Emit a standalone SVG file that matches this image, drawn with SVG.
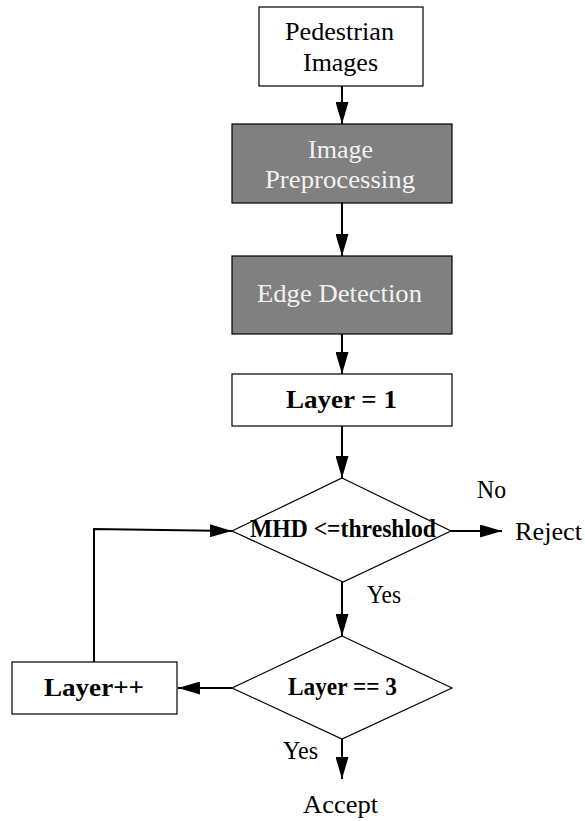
<svg xmlns="http://www.w3.org/2000/svg" width="585" height="821" viewBox="0 0 585 821">
  <style>
    .box { fill: #ffffff; stroke: #000000; stroke-width: 1.2; }
    .dark { fill: #808080; stroke: #000000; stroke-width: 1.2; }
    .dia { fill: #ffffff; stroke: #000000; stroke-width: 1.2; }
    .t { font-family: "Liberation Serif", "Times New Roman", serif; font-size: 25px; fill: #000000; }
    .tw { fill: #f2f2f2; }
    .b { font-weight: bold; }
    .conn { fill: none; stroke: #000000; stroke-width: 2; }
  </style>
  <defs>
    <marker id="arrow" markerUnits="userSpaceOnUse" markerWidth="22" markerHeight="13" refX="22" refY="6.5" viewBox="0 0 22 13" orient="auto">
      <path d="M0,0 L22,6.5 L0,13 Z" fill="#000000"/>
    </marker>
  </defs>

  <rect width="585" height="821" fill="#ffffff"/>

  <g id="connectors">
    <line class="conn" x1="342" y1="86" x2="342" y2="124" marker-end="url(#arrow)"/>
    <line class="conn" x1="342" y1="203" x2="342" y2="256" marker-end="url(#arrow)"/>
    <line class="conn" x1="342" y1="334" x2="342" y2="374" marker-end="url(#arrow)"/>
    <line class="conn" x1="342" y1="426" x2="342" y2="478" marker-end="url(#arrow)"/>
    <line class="conn" x1="451" y1="531" x2="502" y2="531" marker-end="url(#arrow)"/>
    <line class="conn" x1="342" y1="582" x2="342" y2="636" marker-end="url(#arrow)"/>
    <line class="conn" x1="232" y1="688" x2="178" y2="688" marker-end="url(#arrow)"/>
    <line class="conn" x1="342" y1="739" x2="342" y2="779" marker-end="url(#arrow)"/>
    <polyline class="conn" points="94,662 94,529 232,531" marker-end="url(#arrow)"/>
  </g>

  <g id="pedestrian-images">
    <rect class="box" x="259" y="7" width="164" height="79"/>
    <text class="t" x="285" y="40" textLength="109" lengthAdjust="spacingAndGlyphs">Pedestrian</text>
    <text class="t" x="303" y="71" textLength="75" lengthAdjust="spacingAndGlyphs">Images</text>
  </g>

  <g id="image-preprocessing">
    <rect class="dark" x="232" y="124" width="220" height="79"/>
    <text class="t tw" x="308" y="158" textLength="65" lengthAdjust="spacingAndGlyphs">Image</text>
    <text class="t tw" x="265" y="188" textLength="150" lengthAdjust="spacingAndGlyphs">Preprocessing</text>
  </g>

  <g id="edge-detection">
    <rect class="dark" x="232" y="256" width="220" height="78"/>
    <text class="t tw" x="257" y="302" textLength="165" lengthAdjust="spacingAndGlyphs">Edge Detection</text>
  </g>

  <g id="layer-init">
    <rect class="box" x="232" y="374" width="220" height="52"/>
    <text class="t b" x="286" y="408" font-size="26.5" textLength="111" lengthAdjust="spacingAndGlyphs">Layer = 1</text>
  </g>

  <g id="mhd-check">
    <polygon class="dia" points="342,478 451,531 343,582 232,531"/>
    <text class="t b" x="250" y="537" font-size="21.5" textLength="186" lengthAdjust="spacingAndGlyphs">MHD &lt;=threshlod</text>
  </g>

  <g id="layer-check">
    <polygon class="dia" points="342,636 452,688 342,739 232,688"/>
    <text class="t b" x="288" y="695" font-size="22.5" textLength="109" lengthAdjust="spacingAndGlyphs">Layer == 3</text>
  </g>

  <g id="layer-increment">
    <rect class="box" x="12" y="662" width="165" height="52"/>
    <text class="t b" x="44" y="696" font-size="27" textLength="100" lengthAdjust="spacingAndGlyphs">Layer++</text>
  </g>

  <g id="labels">
    <text class="t" x="477" y="498" textLength="29" lengthAdjust="spacingAndGlyphs">No</text>
    <text class="t" x="515" y="540" textLength="67" lengthAdjust="spacingAndGlyphs">Reject</text>
    <text class="t" x="367" y="603" textLength="34" lengthAdjust="spacingAndGlyphs">Yes</text>
    <text class="t" x="283" y="759" textLength="35" lengthAdjust="spacingAndGlyphs">Yes</text>
    <text class="t" x="303" y="813" textLength="75" lengthAdjust="spacingAndGlyphs">Accept</text>
  </g>
</svg>
